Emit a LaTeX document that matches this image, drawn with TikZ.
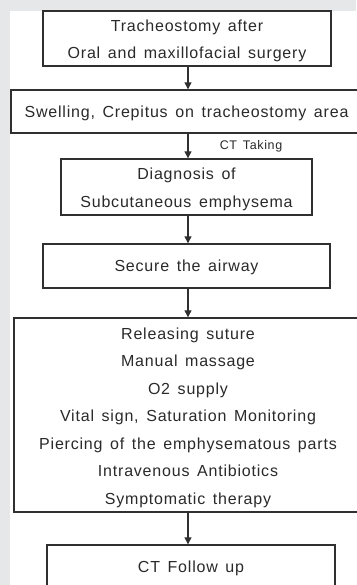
\documentclass[tikz,border=0pt]{standalone}
\usepackage{fontspec}
\setmainfont{Liberation Sans}[LetterSpace=5,WordSpace=1.45]
\usetikzlibrary{arrows.meta}
\definecolor{bggray}{HTML}{E6E7E9}
\definecolor{linegray}{HTML}{303030}
\definecolor{txt}{HTML}{2A2A2A}
\tikzset{
  stepbox/.style={draw=linegray, line width=1.4pt, fill=white, inner sep=0pt},
  steptext/.style={inner sep=0pt, text=txt, font=\fontsize{16}{27.5}\selectfont, align=center},
  flow/.style={draw=linegray, line width=1.2pt, -{Triangle[length=7pt,width=7pt]}},
}
\begin{document}
\begin{tikzpicture}[x=1pt,y=-1pt]
\useasboundingbox (0,0) rectangle (356,585);
\fill[bggray] (0,0) rectangle (356,585);
\fill[white] (10,11) rectangle (356,585);
\node[stepbox, minimum width=288, minimum height=55] (b1) at (187,38.5) {};
\node[steptext, yshift=-2.5pt] (t1) at (b1.center) {Tracheostomy after\\Oral and maxillofacial surgery};
\node[stepbox, minimum width=351, minimum height=43] (b2) at (186.5,111.5) {};
\node[steptext, yshift=-1.5pt] (t2) at (b2.center) {Swelling, Crepitus on tracheostomy area};
\node[stepbox, minimum width=251, minimum height=56] (b3) at (186.5,187) {};
\node[steptext, yshift=-2.5pt] (t3) at (b3.center) {Diagnosis of\\Subcutaneous emphysema};
\node[stepbox, minimum width=287, minimum height=44] (b4) at (186.5,266) {};
\node[steptext, yshift=-1.5pt] (t4) at (b4.center) {Secure the airway};
\node[stepbox, minimum width=348, minimum height=194] (b5) at (188,415) {};
\node[steptext, yshift=-2.5pt] (t5) at (b5.center)
  {Releasing suture\\Manual massage\\O2 supply\\Vital sign, Saturation Monitoring\\Piercing of the emphysematous parts\\Intravenous Antibiotics\\Symptomatic therapy};
\node[stepbox, minimum width=288, minimum height=44] (b6) at (191,567) {};
\node[steptext, yshift=-1.5pt] (t6) at (b6.center) {CT Follow up};
\draw[flow] (b1.south -| 188,0) -- (b2.north -| 188,0);
\draw[flow] (b2.south -| 188,0) -- (b3.north -| 188,0);
\draw[flow] (b3.south -| 188,0) -- (b4.north -| 188,0);
\draw[flow] (b4.south -| 188,0) -- (b5.north -| 188,0);
\draw[flow] (b5.south -| 188,0) -- (b6.north -| 188,0);
\node[text=txt, inner sep=0pt, font=\fontsize{12.5}{14}\selectfont] (ct) at (251,146) {CT Taking};
\end{tikzpicture}
\end{document}
